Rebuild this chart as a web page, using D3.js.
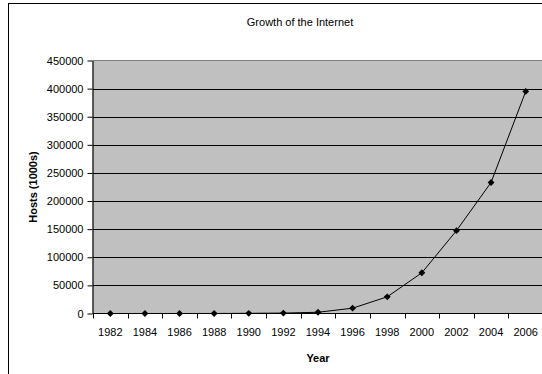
<!doctype html>
<html>
<head>
<meta charset="utf-8"/>
<script src="https://cdnjs.cloudflare.com/ajax/libs/d3/7.8.5/d3.min.js"></script>
<style>
  body { margin: 0; background: #fff; }
  svg { display: block; font-family: "Liberation Sans", Arial, sans-serif; }
</style>
</head>
<body>
<svg width="542" height="374"></svg>
<script>
// hosts in thousands
var years = ["1982","1984","1986","1988","1990","1992","1994","1996","1998","2000","2002","2004","2006"];
var hosts = [0.2, 1, 5, 28, 313, 727, 2217, 9472, 29670, 72398, 147344, 233101, 394991];
var yTicks = [0, 50000, 100000, 150000, 200000, 250000, 300000, 350000, 400000, 450000];

var svg = d3.select("svg");
var plotL = 93, plotR = 543, plotT = 60.5, plotB = 313.5;

// outer chart frame (runs off the right and bottom edges)
svg.append("rect").attr("x", 8.5).attr("y", 3.5).attr("width", 600).attr("height", 400)
  .attr("fill", "#fff").attr("stroke", "#000");

var x = d3.scaleBand().domain(years).range([plotL, plotR]);
var y = d3.scaleLinear().domain([0, 450000]).range([plotB, plotT]);

svg.append("rect").attr("x", plotL).attr("y", plotT).attr("width", plotR - plotL).attr("height", plotB - plotT)
  .attr("fill", "#c0c0c0").attr("stroke", "#808080");

svg.append("g").selectAll("line").data(yTicks.slice(1, -1)).enter().append("line")
  .attr("x1", plotL).attr("x2", plotR)
  .attr("y1", function(d){ return Math.round(y(d)) + 0.5; })
  .attr("y2", function(d){ return Math.round(y(d)) + 0.5; })
  .attr("stroke", "#000");

var yAxis = d3.axisLeft(y).tickValues(yTicks).tickFormat(d3.format("d")).tickSizeOuter(0).tickSizeInner(5).tickPadding(4);
var yG = svg.append("g").attr("transform", "translate(" + (plotL - 0.5) + ",0)").call(yAxis);
yG.selectAll("text").attr("font-size", 11).attr("font-family", "Liberation Sans, Arial, sans-serif").attr("fill", "#000");

// category axis: ticks sit between categories
var xAxisLine = svg.append("g");
xAxisLine.append("line").attr("x1", plotL).attr("x2", plotR).attr("y1", plotB).attr("y2", plotB).attr("stroke", "#000");
xAxisLine.selectAll(".tk").data(years).enter().append("line")
  .attr("x1", function(d){ return Math.round(x(d)) + 0.5; })
  .attr("x2", function(d){ return Math.round(x(d)) + 0.5; })
  .attr("y1", plotB).attr("y2", plotB + 5).attr("stroke", "#000");
xAxisLine.selectAll("text").data(years).enter().append("text")
  .attr("x", function(d){ return x(d) + x.bandwidth() / 2; })
  .attr("y", plotB + 22)
  .attr("text-anchor", "middle").attr("font-size", 11)
  .text(function(d){ return d; });

var line = d3.line()
  .x(function(d, i){ return x(years[i]) + x.bandwidth() / 2; })
  .y(function(d){ return y(d); });
svg.append("path").datum(hosts).attr("d", line).attr("fill", "none").attr("stroke", "#000").attr("stroke-width", 1);

svg.append("g").selectAll("path").data(hosts).enter().append("path")
  .attr("d", d3.symbol().type(d3.symbolDiamond2).size(30))
  .attr("transform", function(d, i){ return "translate(" + (x(years[i]) + x.bandwidth() / 2) + "," + y(d) + ")"; })
  .attr("fill", "#000");

svg.append("text").attr("x", 300).attr("y", 26).attr("text-anchor", "middle").attr("font-size", 11)
  .text("Growth of the Internet");
svg.append("text").attr("x", (plotL + plotR) / 2).attr("y", 362).attr("text-anchor", "middle")
  .attr("font-size", 11).attr("font-weight", "bold").text("Year");
svg.append("text").attr("transform", "translate(37," + ((plotT + plotB) / 2) + ") rotate(-90)")
  .attr("text-anchor", "middle").attr("font-size", 11).attr("font-weight", "bold").text("Hosts (1000s)");
</script>
</body>
</html>
